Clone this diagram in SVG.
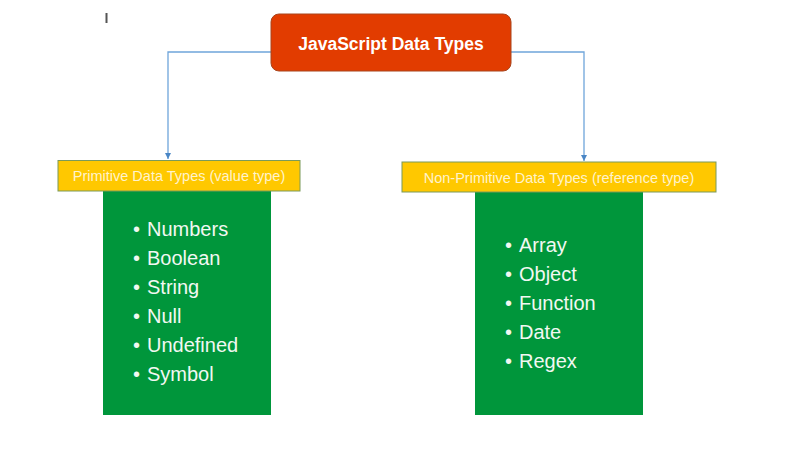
<svg xmlns="http://www.w3.org/2000/svg" width="802" height="456" viewBox="0 0 802 456">
<style>
.conn{fill:none;stroke:#6FA5DA;stroke-width:1.3}
.hdr{fill:#FFC800;stroke:#7A9A5A;stroke-width:1}
.body{fill:#00963B}
.htxt{font-family:"Liberation Sans",Arial,sans-serif;font-size:14.5px;fill:#FFF3CC;text-anchor:middle}
.item{font-family:"Liberation Sans",Arial,sans-serif;font-size:20px;fill:#F2F8F2}
</style>
<defs>
<marker id="ah" markerWidth="8" markerHeight="8" refX="6" refY="4" orient="auto" markerUnits="userSpaceOnUse">
<path d="M0,1 L6,4 L0,7 Z" fill="#4A86C5"/>
</marker>
</defs>
<rect width="802" height="456" fill="#FFFFFF"/>
<rect x="105.5" y="13" width="2" height="10" fill="#555"/>
<g id="connectors">
<path class="conn" d="M271,52 H168 V159" marker-end="url(#ah)"/>
<path class="conn" d="M511,52 H584 V161" marker-end="url(#ah)"/>
</g>
<g id="title">
<rect x="271" y="14" width="240" height="57" rx="8" fill="#E23C00" stroke="#A8441C" stroke-width="1"/>
<text x="391" y="50" font-family="Liberation Sans,Arial,sans-serif" font-size="17.5" font-weight="bold" fill="#FFFFFF" text-anchor="middle">JavaScript Data Types</text>
</g>
<g id="primitive">
<rect class="body" x="103" y="191" width="168" height="224"/>
<rect class="hdr" x="58" y="160.5" width="242" height="30.5"/>
<text class="htxt" x="179" y="181">Primitive Data Types (value type)</text>
<g class="item">
<text x="133" y="236">•</text><text x="147" y="236">Numbers</text>
<text x="133" y="265">•</text><text x="147" y="265">Boolean</text>
<text x="133" y="294">•</text><text x="147" y="294">String</text>
<text x="133" y="323">•</text><text x="147" y="323">Null</text>
<text x="133" y="352">•</text><text x="147" y="352">Undefined</text>
<text x="133" y="381">•</text><text x="147" y="381">Symbol</text>
</g>
</g>
<g id="nonprimitive">
<rect class="body" x="475" y="192" width="168" height="223"/>
<rect class="hdr" x="402" y="162" width="314" height="30"/>
<text class="htxt" x="559" y="182.5">Non-Primitive Data Types (reference type)</text>
<g class="item">
<text x="505" y="252">•</text><text x="519" y="252">Array</text>
<text x="505" y="281">•</text><text x="519" y="281">Object</text>
<text x="505" y="310">•</text><text x="519" y="310">Function</text>
<text x="505" y="339">•</text><text x="519" y="339">Date</text>
<text x="505" y="368">•</text><text x="519" y="368">Regex</text>
</g>
</g>
</svg>
